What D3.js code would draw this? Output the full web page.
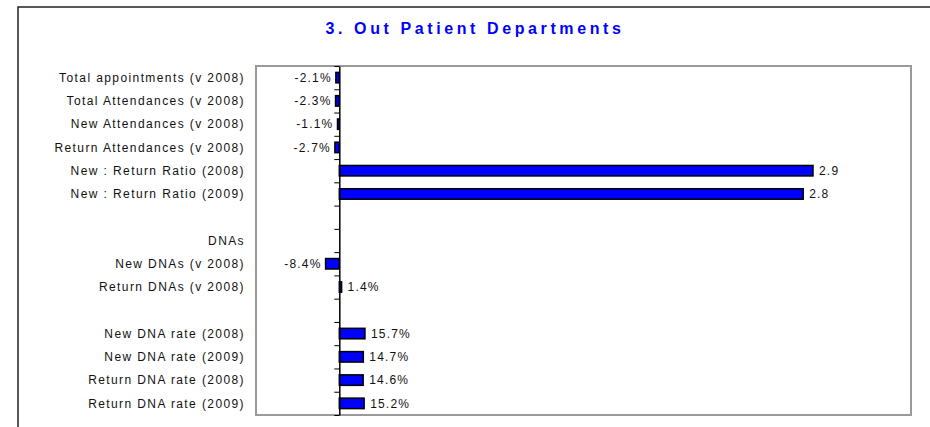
<!DOCTYPE html>
<html>
<head>
<meta charset="utf-8">
<script src="https://cdn.jsdelivr.net/npm/d3@7"></script>
<style>
  body { margin: 0; background: #fff; }
  text { font-family: "Liberation Sans", Arial, sans-serif; }
</style>
</head>
<body>
<svg width="930" height="427"></svg>
<script>
const width = 930
const height = 427

// rows top to bottom, blanks are spacer rows
const categories = [
  "Total appointments (v 2008)",
  "Total Attendances (v 2008)",
  "New Attendances (v 2008)",
  "Return Attendances (v 2008)",
  "New : Return Ratio (2008)",
  "New : Return Ratio (2009)",
  "",
  "DNAs",
  "New DNAs (v 2008)",
  "Return DNAs (v 2008)",
  "",
  "New DNA rate (2008)",
  "New DNA rate (2009)",
  "Return DNA rate (2008)",
  "Return DNA rate (2009)"
]
const values = [-0.021, -0.023, -0.011, -0.027, 2.9, 2.84, null, null, -0.084, 0.014, null, 0.157, 0.147, 0.146, 0.152]
// how each value label is printed
const valueTypes = ["pct", "pct", "pct", "pct", "ratio", "ratio", "", "", "pct", "pct", "", "pct", "pct", "pct", "pct"]

const title = "3. Out Patient Departments"

let plot = {left: 256, top: 66, right: 911, bottom: 415}

const svg = d3.select("svg")

// outer chart frame (runs off the right and bottom edges)
svg.append("rect")
  .attr("x", 18)
  .attr("y", 7)
  .attr("width", 940)
  .attr("height", 440)
  .attr("fill", "none")
  .attr("stroke", "#222")
  .attr("stroke-width", 1.5)

svg.append("text")
  .attr("x", 475)
  .attr("y", 34)
  .attr("text-anchor", "middle")
  .attr("font-size", "16px")
  .attr("font-weight", "bold")
  .attr("letter-spacing", "3.6px")
  .attr("fill", "#0000ff")
  .text(title)

// plot area border
svg.append("rect")
  .attr("x", plot.left)
  .attr("y", plot.top)
  .attr("width", plot.right - plot.left)
  .attr("height", plot.bottom - plot.top)
  .attr("fill", "#fff")
  .attr("stroke", "#9a9a9a")
  .attr("stroke-width", 2)

var x = d3.scaleLinear()
  .domain([-0.51, 3.5])
  .range([plot.left, plot.right])

var rows = d3.range(categories.length)

var y = d3.scaleBand()
  .domain(rows)
  .range([plot.top, plot.bottom])
  .paddingInner(0.55)
  .paddingOuter(0.275)

// row boundaries for the tick marks
var yEdge = d3.scaleLinear()
  .domain([0, categories.length])
  .range([plot.top, plot.bottom])

// plain hyphen for negatives, like the original
var locale = d3.formatLocale({decimal: ".", thousands: ",", grouping: [3], currency: ["", ""], minus: "-"})
var fmtPct = locale.format(".1%")
var fmtRatio = locale.format(".1f")

// category labels
svg.append("g")
  .selectAll("text")
  .data(rows)
  .enter()
  .append("text")
  .attr("x", plot.left - 11)
  .attr("y", d => y(d) + y.bandwidth() / 2)
  .attr("dy", "0.35em")
  .attr("text-anchor", "end")
  .attr("font-size", "12px")
  .attr("letter-spacing", "1.4px")
  .attr("fill", "#111")
  .text(d => categories[d])

var barRows = rows.filter(d => values[d] !== null)

// bars
svg.append("g")
  .selectAll("rect")
  .data(barRows)
  .enter()
  .append("rect")
  .attr("x", d => x(Math.min(0, values[d])))
  .attr("y", d => y(d))
  .attr("width", d => Math.abs(x(values[d]) - x(0)))
  .attr("height", y.bandwidth())
  .attr("fill", "#0000ff")
  .attr("stroke", "#000")
  .attr("stroke-width", 1.5)

// value labels
svg.append("g")
  .selectAll("text")
  .data(barRows)
  .enter()
  .append("text")
  .attr("x", d => values[d] < 0 ? x(values[d]) - 4 : x(values[d]) + 6)
  .attr("y", d => y(d) + y.bandwidth() / 2)
  .attr("dy", "0.35em")
  .attr("text-anchor", d => values[d] < 0 ? "end" : "start")
  .attr("font-size", "12px")
  .attr("letter-spacing", "1.2px")
  .attr("fill", "#111")
  .text(d => valueTypes[d] == "ratio" ? fmtRatio(values[d]) : fmtPct(values[d]))

// zero axis with ticks between rows
var axis = svg.append("g")
  .attr("transform", `translate(${x(0)},0)`)
  .call(d3.axisLeft(yEdge)
    .ticks(categories.length)
    .tickSize(5)
    .tickSizeOuter(0)
    .tickFormat(""))

axis.select(".domain")
  .attr("stroke", "#000")
  .attr("stroke-width", 1.5)
axis.selectAll(".tick line")
  .attr("stroke", "#000")
</script>
</body>
</html>
